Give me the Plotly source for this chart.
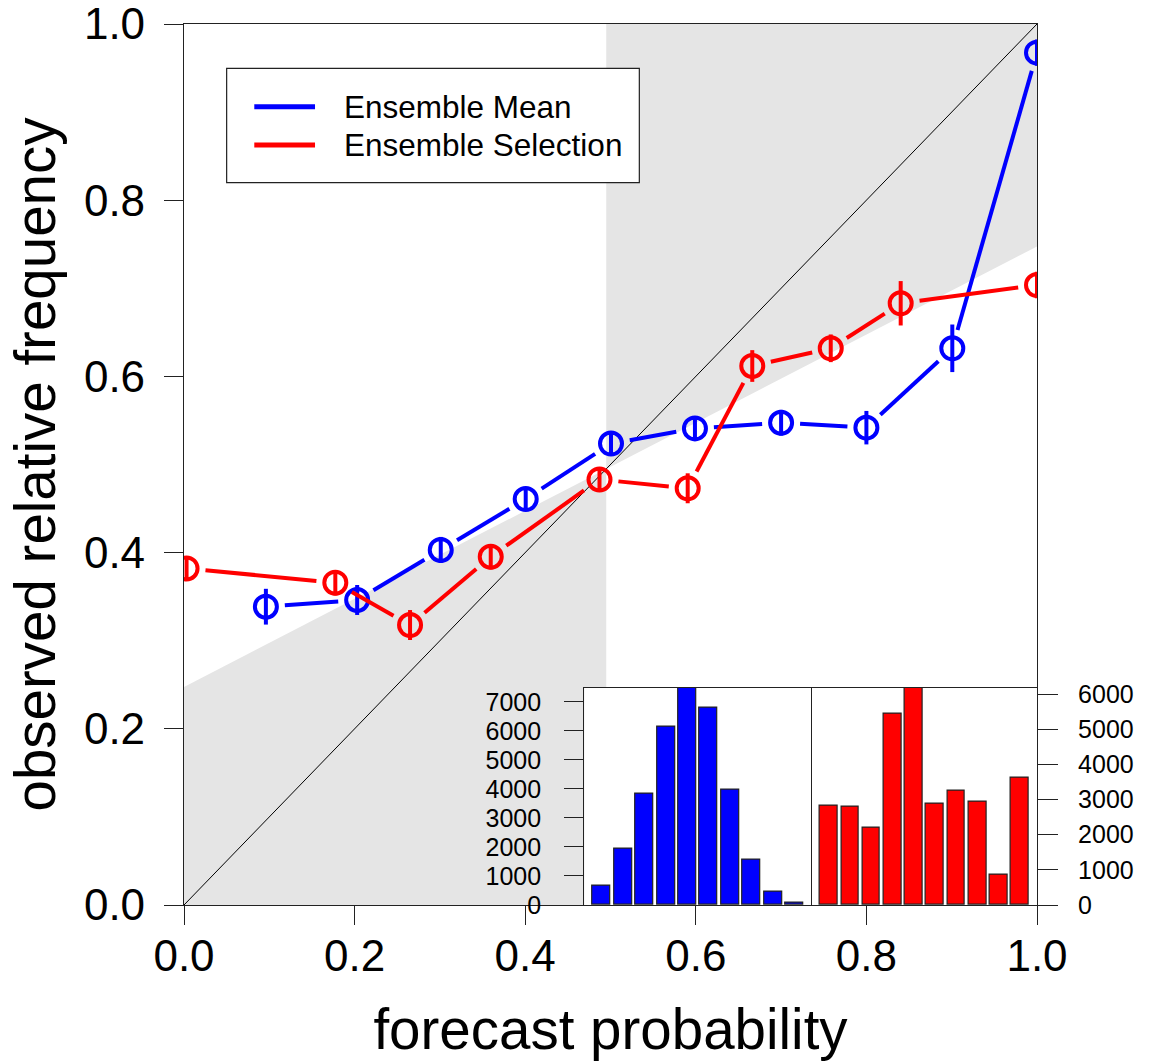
import numpy as np
import plotly.graph_objects as go

# ---------------- data ----------------
fc_mean = [0.096, 0.203, 0.301, 0.4006, 0.5006, 0.599, 0.700, 0.800, 0.9007, 1.0]
obs_mean = [0.3386, 0.3462, 0.403, 0.4608, 0.5238, 0.541, 0.5474, 0.5418, 0.6319, 0.9675]
err_mean = [0.0203, 0.017, 0.0148, 0.0134, 0.0136, 0.0138, 0.0146, 0.019, 0.027, 0.015]

fc_sel = [0.003, 0.1774, 0.265, 0.3596, 0.4871, 0.5905, 0.6662, 0.7582, 0.8402, 1.0]
obs_sel = [0.382, 0.3658, 0.3178, 0.3953, 0.483, 0.473, 0.6118, 0.6319, 0.683, 0.7037]
err_sel = [0.014, 0.0144, 0.017, 0.0144, 0.0138, 0.017, 0.018, 0.0157, 0.0252, 0.015]

climatology = 0.495

hist_bins = list(range(1, 11))
hist_mean = [650, 1955, 3840, 6130, 7490, 6790, 3980, 1550, 475, 95]
hist_sel = [2820, 2790, 2190, 5440, 6180, 2895, 3260, 2930, 870, 3610]

main_ticks = [0.0, 0.2, 0.4, 0.6, 0.8, 1.0]
hist_mean_ticks = [0, 1000, 2000, 3000, 4000, 5000, 6000, 7000]
hist_sel_ticks = [0, 1000, 2000, 3000, 4000, 5000, 6000]

series_names = ["Ensemble Mean", "Ensemble Selection"]

# ---------------- layout constants ----------------
W, H = 1168, 1062
ML, MR, MT, MB = 184, 131, 24, 157
PW, PH = W - ML - MR, H - MT - MB
BLUE, RED, GRAY = "#0000FF", "#FF0000", "#E5E5E5"
FONT = "Liberation Sans, Arial, sans-serif"


def gapped(xs, ys, gap_px=19):
    gx, gy = [], []
    for i in range(len(xs) - 1):
        x0, y0, x1, y1 = xs[i], ys[i], xs[i + 1], ys[i + 1]
        L = np.hypot((x1 - x0) * PW, (y1 - y0) * PH)
        if L <= 2 * gap_px:
            continue
        t = gap_px / L
        gx += [x0 + t * (x1 - x0), x1 - t * (x1 - x0), None]
        gy += [y0 + t * (y1 - y0), y1 - t * (y1 - y0), None]
    return gx, gy


fig = go.Figure()

# no-skill shading
c = climatology
fig.add_trace(go.Scatter(x=[0, c, c, 0, 0], y=[0, 0, c, c / 2, 0], fill="toself",
                         fillcolor=GRAY, line=dict(width=0), mode="lines",
                         hoverinfo="skip", showlegend=False))
fig.add_trace(go.Scatter(x=[c, 1, 1, c, c], y=[c, (1 + c) / 2, 1, 1, c], fill="toself",
                         fillcolor=GRAY, line=dict(width=0), mode="lines",
                         hoverinfo="skip", showlegend=False))
# diagonal
fig.add_trace(go.Scatter(x=[0, 1], y=[0, 1], mode="lines",
                         line=dict(color="black", width=1), showlegend=False, hoverinfo="skip"))

for fx, ob, er, col, nm in [(fc_mean, obs_mean, err_mean, BLUE, series_names[0]),
                            (fc_sel, obs_sel, err_sel, RED, series_names[1])]:
    gx, gy = gapped(fx, ob)
    fig.add_trace(go.Scatter(x=gx, y=gy, mode="lines", line=dict(color=col, width=4),
                             showlegend=False, hoverinfo="skip"))
    fig.add_trace(go.Scatter(x=fx, y=ob, mode="markers", name=nm,
                             marker=dict(symbol="circle-open", size=22, color=col,
                                         line=dict(color=col, width=4)),
                             error_y=dict(type="data", array=er, symmetric=True, width=0,
                                          thickness=4, color=col),
                             showlegend=False))

# inset histograms
fig.add_trace(go.Bar(x=hist_bins, y=hist_mean, width=1 / 1.2, xaxis="x2", yaxis="y2",
                     marker=dict(color=BLUE, line=dict(color="#222", width=1.2)),
                     showlegend=False))
fig.add_trace(go.Bar(x=hist_bins, y=hist_sel, width=1 / 1.2, xaxis="x3", yaxis="y3",
                     marker=dict(color=RED, line=dict(color="#222", width=1.2)),
                     showlegend=False))

# manual legend (R-style box legend)
fig.add_shape(type="rect", xref="x", yref="y", x0=0.05, x1=0.5338, y0=0.8199, y1=0.9497,
              line=dict(color="#222", width=1.2), fillcolor="white", layer="above")
for yv, col, nm in [(0.906, BLUE, series_names[0]), (0.8627, RED, series_names[1])]:
    fig.add_shape(type="line", xref="x", yref="y", x0=0.0824, x1=0.1536, y0=yv, y1=yv,
                  line=dict(color=col, width=5), layer="above")
    fig.add_annotation(x=0.1856, y=yv, xref="x", yref="y", text=nm, showarrow=False,
                       xanchor="left", yanchor="middle",
                       font=dict(family=FONT, size=31.5, color="black"))

axis_line = dict(showline=True, linecolor="#222", linewidth=1.2, mirror=True,
                 showgrid=False, zeroline=False)

x_in0 = (584.3 - ML) / PW
x_mid = (811.7 - ML) / PW
y_in1 = (905 - 687.7) / PH

fig.update_layout(
    width=W, height=H,
    margin=dict(l=ML, r=MR, t=MT, b=MB),
    paper_bgcolor="white", plot_bgcolor="white",
    font=dict(family=FONT, color="black"),
    bargap=0,
    xaxis=dict(domain=[0, 1], range=[0, 1], tickvals=main_ticks, tickformat=".1f",
               ticks="outside", ticklen=19, tickcolor="#222",
               tickfont=dict(size=44), ticklabelstandoff=-7, ticklabeloverflow="allow",
               title=dict(text="forecast probability", font=dict(size=56.5), standoff=30),
               automargin=False, **axis_line),
    yaxis=dict(domain=[0, 1], range=[0, 1], tickvals=main_ticks, tickformat=".1f",
               ticks="outside", ticklen=19, tickcolor="#222",
               tickfont=dict(size=44), ticklabelstandoff=10, ticklabeloverflow="allow",
               title=dict(text="observed relative frequency", font=dict(size=56.5), standoff=10),
               automargin=False, **axis_line),
    xaxis2=dict(domain=[x_in0, x_mid], range=[0.19, 10.81], anchor="y2",
                showticklabels=False, ticks="", **axis_line),
    yaxis2=dict(domain=[0, y_in1], range=[0, max(hist_mean)], anchor="x2", side="left",
                tickvals=hist_mean_ticks, ticks="outside", ticklen=19, tickcolor="#222",
                tickfont=dict(size=25), ticklabelstandoff=18, ticklabeloverflow="allow",
                **axis_line),
    xaxis3=dict(domain=[x_mid, 1], range=[0.19, 10.81], anchor="y3",
                showticklabels=False, ticks="", **axis_line),
    yaxis3=dict(domain=[0, y_in1], range=[0, max(hist_sel)], anchor="x3", side="right",
                tickvals=hist_sel_ticks, ticks="outside", ticklen=20, tickcolor="#222",
                tickfont=dict(size=25), ticklabelstandoff=15, ticklabeloverflow="allow",
                **axis_line),
)

fig.write_html("out.html")
